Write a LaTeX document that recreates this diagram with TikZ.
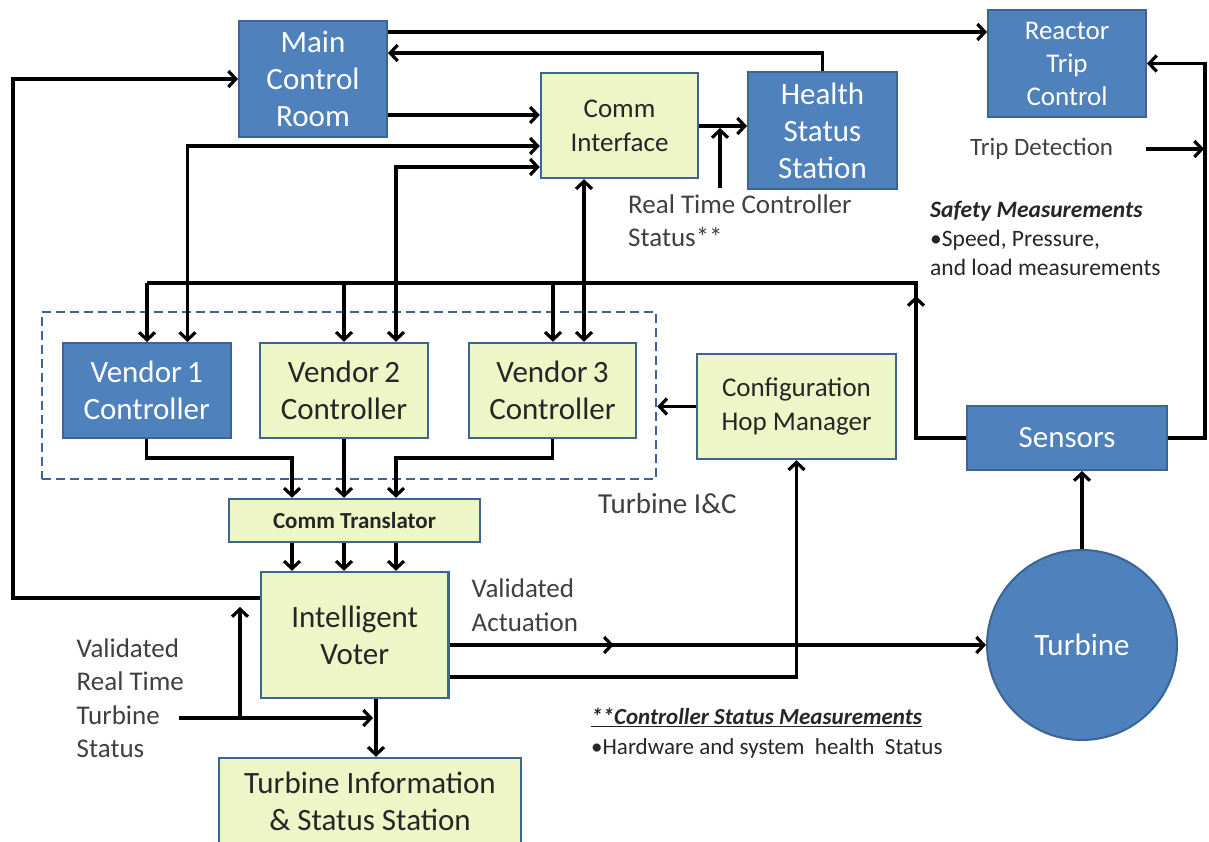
\documentclass[tikz,border=0pt]{standalone}
\usepackage{fontspec}
\setmainfont{Carlito}
\usetikzlibrary{arrows.meta,decorations.markings,calc}
\definecolor{boxblue}{HTML}{4F81BD}
\definecolor{blueedge}{HTML}{3A6595}
\definecolor{boxgreen}{HTML}{EEF5C6}
\definecolor{labelgray}{HTML}{404040}
\definecolor{boxtext}{HTML}{262626}
\begin{document}
\begin{tikzpicture}[x=1pt,y=-1pt,
 bluebox/.style={draw=blueedge,line width=2pt,fill=boxblue,text=white,inner sep=0pt,align=center,font=\fontsize{31}{37}\selectfont},
 greenbox/.style={draw=blueedge,line width=2.5pt,fill=boxgreen,text=boxtext,inner sep=0pt,align=center,font=\fontsize{31}{37}\selectfont},
 conn/.style={line width=3.2pt},
 arr/.style={conn,-{Straight Barb[length=7.5pt,width=16pt]}},
 arrtwo/.style={conn,{Straight Barb[length=7.5pt,width=16pt]}-{Straight Barb[length=7.5pt,width=16pt]}},
 lbl/.style={text=labelgray,inner sep=0pt,anchor=west,align=left,font=\fontsize{27}{33.5}\selectfont},
 midarrow/.style={postaction={decorate},decoration={markings,mark=at position #1 with {\arrow{Straight Barb[length=7.5pt,width=16pt]}}}}
]
\useasboundingbox (0,0) rectangle (1209,842);
\fill[white] (0,0) rectangle (1209,842);

% dashed group
\node[draw=blueedge,dashed,dash pattern=on 9pt off 5pt,line width=2.5pt,minimum width=614pt,minimum height=167pt,inner sep=0pt] (grp) at (349,395.5) {};

% boxes
\node[bluebox,minimum width=148pt,minimum height=116pt] (mcr) at (313,79) {Main\\Control\\Room};
\node[greenbox,minimum width=157pt,minimum height=105pt,font=\fontsize{27}{34}\selectfont] (ci) at (619.5,125.5) {Comm\\Interface};
\node[bluebox,minimum width=149pt,minimum height=117pt] (hss) at (822.5,130.5) {Health\\Status\\Station};
\node[bluebox,minimum width=158pt,minimum height=107pt,font=\fontsize{27}{33}\selectfont] (rtc) at (1067,63.5) {Reactor\\Trip\\Control};
\node[bluebox,minimum width=168pt,minimum height=95pt] (vone) at (146.75,390.5) {Vendor\,1\\Controller};
\node[greenbox,minimum width=168pt,minimum height=95pt] (vtwo) at (344,390.5) {Vendor\,2\\Controller};
\node[greenbox,minimum width=167pt,minimum height=95pt] (vthree) at (552.5,390.5) {Vendor\,3\\Controller};
\node[greenbox,minimum width=199pt,minimum height=105pt,font=\fontsize{27}{34}\selectfont] (chm) at (796.5,406.5) {Configuration\\Hop Manager};
\node[bluebox,minimum width=200pt,minimum height=64pt] (sen) at (1067,438) {Sensors};
\node[greenbox,minimum width=251pt,minimum height=43pt,font=\fontsize{23}{26}\selectfont\bfseries] (ct) at (354.5,520.5) {Comm Translator};
\node[greenbox,minimum width=187.5pt,minimum height=126pt] (iv) at (354.75,635) {Intelligent\\Voter};
\node[greenbox,minimum width=302pt,minimum height=87pt] (tiss) at (370,801.5) {Turbine Information\\\& Status Station};
\node[circle,draw=blueedge,line width=2pt,fill=boxblue,text=white,minimum size=190pt,inner sep=0pt,font=\fontsize{31}{37}\selectfont] (tur) at (1082,645) {Turbine};

% labels
\node[lbl] (rtcs) at (628,220.5) {Real Time Controller\\Status**};
\node[lbl,font=\fontsize{25}{30}\selectfont] (td) at (970,149) {Trip Detection};
\node[lbl,font=\fontsize{23.5}{29}\selectfont,text=boxtext] (sm) at (930,238) {\textbf{\textit{Safety Measurements}}\\\textbullet Speed, Pressure,\\and load measurements};
\node[lbl,font=\fontsize{29}{34}\selectfont] (tic) at (598,504) {Turbine I\&C};
\node[lbl] (va) at (471.5,605) {Validated\\Actuation};
\node[lbl] (vrt) at (76.5,698) {Validated\\Real Time\\Turbine\\Status};
\node[lbl,font=\fontsize{23}{30}\selectfont,text=boxtext] (csm) at (591,733) {\underline{\textbf{\textit{**Controller Status Measurements}}}\\\textbullet Hardware and system \ health \ Status};

% named guide coordinates
\coordinate (busL) at (147,283);
\coordinate (busR) at (916,283);
\coordinate (vrtin) at (179,718);
\coordinate (vrtbr) at (240,718);
\coordinate (rtin) at (720,188);
\coordinate (tdin) at (1146,149);

% top connectors
\draw[arr] (mcr.east |- 0,32) -- (rtc.west |- 0,32);
\draw[arr] (hss.north) |- (mcr.east |- 0,53);
\draw[arr] (mcr.east |- 0,115) -- (ci.west |- 0,115);
\draw[arr] (ci.east |- 0,126) -- (hss.west |- 0,126);
\draw[arr] (rtin) -- (720,128);
\draw[arr] (iv.west |- 0,598) -| (13,300) |- (mcr.west);

% comm interface <-> vendors
\draw[arrtwo] (ci.west |- 0,146) -| (187.5,0 |- vone.north);
\draw[arrtwo] (ci.west |- 0,167) -| (396,0 |- vtwo.north);
\draw[arrtwo] (ci.south -| 584,0) -- (584,0 |- vthree.north);

% sensor bus
\draw[conn] (busL) -- (busR) -- (916,298);
\draw[arr] (busL) -- (busL |- vone.north);
\draw[arr] (344,283) -- (344,0 |- vtwo.north);
\draw[arr] (553,283) -- (553,0 |- vthree.north);
\draw[arr] (sen.west) -| (916,296);
\draw[arr] (sen.east) -- (1205,0 |- sen.east) |- (rtc.east);
\draw[arr] (tdin) -- (1204,149);
\draw[arr] (tur.north) -- (tur.north |- sen.south);

% vendors -> translator -> voter
\draw[arr] (vone.south) -- (vone.south |- 0,458) -| (292,0 |- ct.north);
\draw[arr] (vtwo.south) -- (vtwo.south |- ct.north);
\draw[arr] (552.5,0 |- vthree.south) -- (552.5,458) -| (396,0 |- ct.north);
\draw[arr] (292,0 |- ct.south) -- (292,0 |- iv.north);
\draw[arr] (344,0 |- ct.south) -- (344,0 |- iv.north);
\draw[arr] (396,0 |- ct.south) -- (396,0 |- iv.north);

% config hop manager
\draw[arr] (chm.west) -- (grp.east |- chm.west);
\draw[arr] (iv.east |- 0,677) -| (chm.south);

% voter outputs
\draw[arr,midarrow=164pt] (iv.east |- tur.west) -- (tur.west);
\draw[arr] (iv.south -| 376,0) -- (376,0 |- tiss.north);
\draw[arr] (vrtin) -- (373,718);
\draw[arr] (vrtbr) -- (240,607);
\end{tikzpicture}
\end{document}
